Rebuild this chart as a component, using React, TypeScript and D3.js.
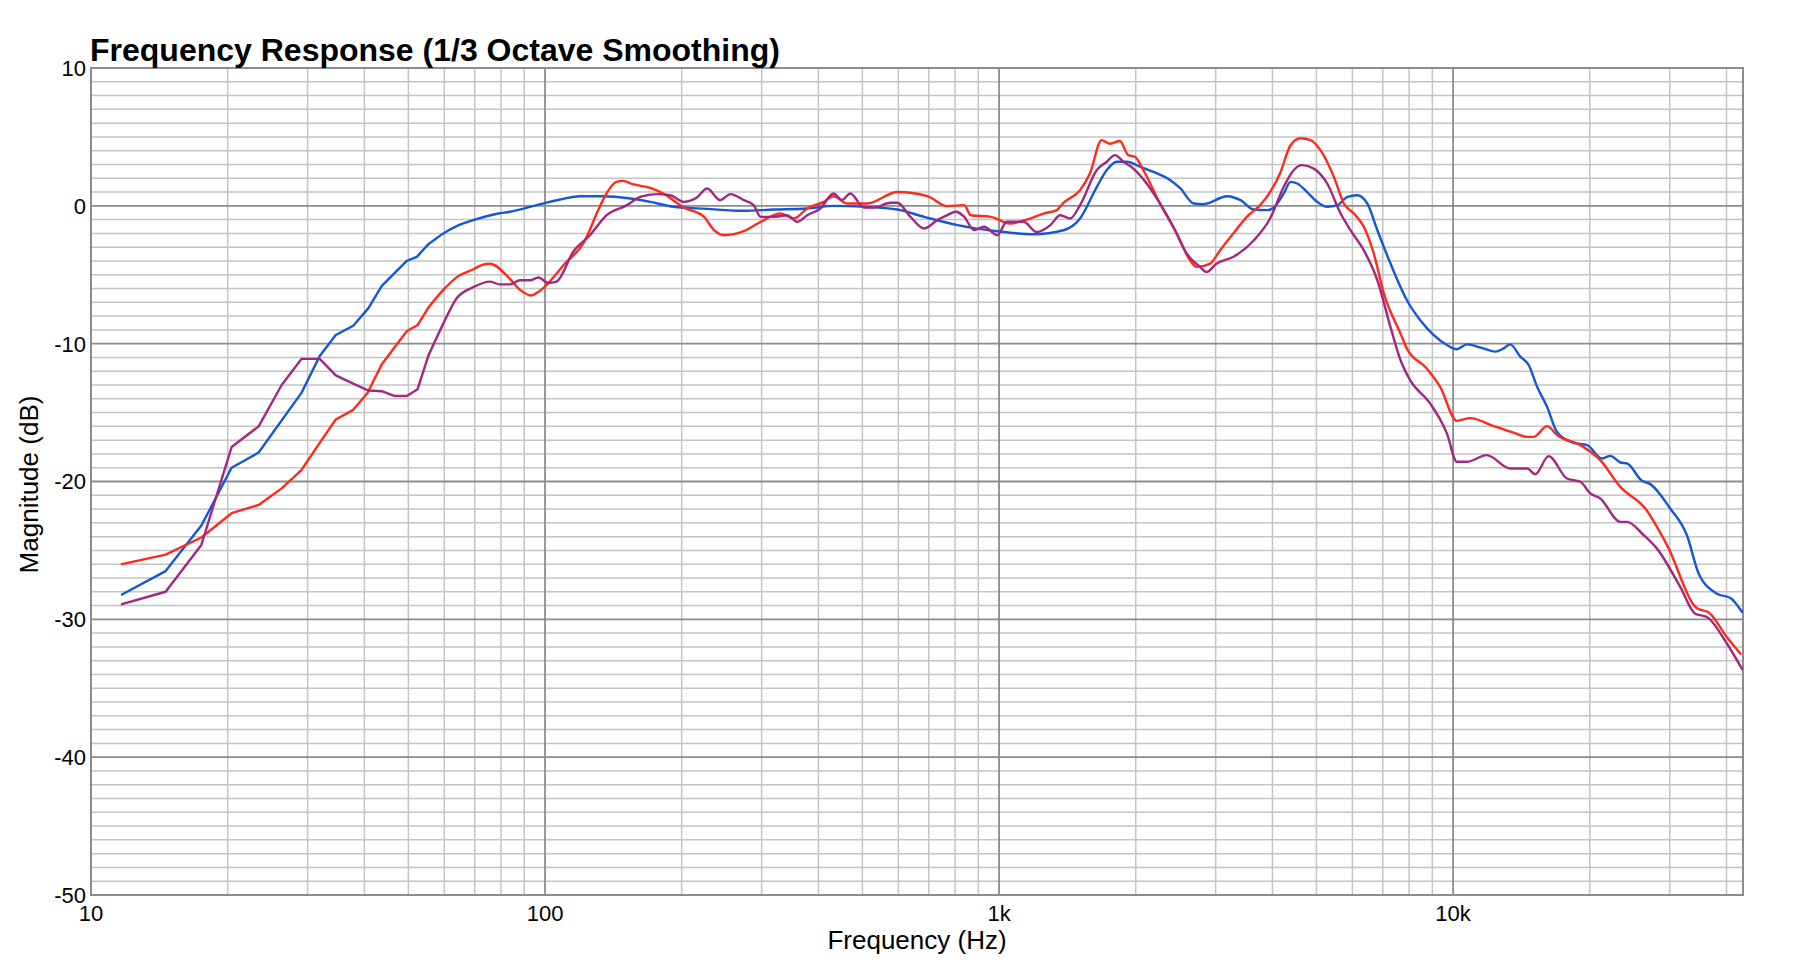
import React, { useEffect, useRef } from 'react';
import * as d3 from 'd3';

// [frequency Hz, magnitude dB]
const blueCurve: [number, number][] = [
  [11.7, -28.2], [14.6, -26.5], [17.5, -23.2], [20.4, -19.0], [23.4, -17.9], [29.1, -13.55],
  [31.9, -10.9], [34.6, -9.37], [37.8, -8.7], [40.8, -7.44], [43.7, -5.8], [49.6, -4.0],
  [52.2, -3.7], [55.3, -2.8], [59.7, -2.0], [63.9, -1.47], [69.5, -1.04], [78.9, -0.56],
  [83.7, -0.43], [95.8, 0.05], [108, 0.46], [119.5, 0.7], [134.5, 0.7], [154, 0.53],
  [170.5, 0.29], [192, -0.07], [227, -0.22], [274, -0.36], [319, -0.27], [378, -0.19],
  [432, 0], [504, -0.07], [597, -0.27], [684, -0.8], [810, -1.4], [991, -1.84],
  [1189, -2.06], [1386, -1.77], [1508, -0.92], [1642, 1.38], [1727, 2.6], [1817, 3.2],
  [1911, 3.2], [2046, 2.83], [2228, 2.35], [2384, 1.86], [2508, 1.26], [2684, 0.17],
  [2824, 0.12], [3178, 0.7], [3403, 0.41], [3641, -0.27], [3897, -0.31], [4030, -0.12],
  [4237, 0.9], [4386, 1.74], [4537, 1.62], [4770, 1.0], [5020, 0.29], [5280, -0.07],
  [5560, 0.05], [5850, 0.65], [6150, 0.77], [6470, 0.17], [6810, -1.77], [7280, -4.19],
  [7906, -6.83], [8459, -8.28], [9055, -9.37], [9690, -10.1], [10190, -10.4], [10720, -10.05],
  [11470, -10.27], [12380, -10.58], [12920, -10.34], [13360, -10.05], [14060, -10.94],
  [14670, -11.55], [15310, -13.12], [16100, -14.58], [16940, -16.4], [18440, -17.2],
  [19730, -17.36], [21280, -18.33], [22200, -18.14], [23350, -18.62], [24150, -18.69],
  [26060, -19.95], [27180, -20.19], [30070, -21.96], [32730, -23.9], [34740, -26.68],
  [38110, -28.14], [40810, -28.45], [43290, -29.47],
];

const redCurve: [number, number][] = [
  [11.7, -26.0], [14.6, -25.3], [17.5, -24.06], [20.4, -22.3], [23.4, -21.7], [26.3, -20.5],
  [29.1, -19.15], [32.2, -17.0], [34.6, -15.5], [37.8, -14.8], [40.6, -13.6], [43.7, -11.5],
  [49.6, -9.1], [52.4, -8.65], [55.3, -7.4], [59.7, -6.1], [64.4, -5.1], [69.5, -4.6],
  [72.5, -4.3], [75.6, -4.2], [83.7, -5.3], [88.1, -6.1], [93.3, -6.5], [97.5, -6.16],
  [110.7, -4.18], [121.4, -2.73], [131, -0.31], [135.5, 0.7], [143.6, 1.74], [148.6, 1.81],
  [156, 1.57], [170.5, 1.3], [183, 0.85], [202, -0.12], [224, -0.8], [235.6, -1.76],
  [247.8, -2.13], [274, -1.84], [298.5, -1.16], [330, -0.56], [353, -0.92], [378, -0.19],
  [411, 0.29], [432, 0.7], [463, 0.17], [512, 0.17], [597, 1.0], [695, 0.7], [769, -0.02],
  [838, 0.05], [866, -0.68], [959, -0.8], [1057, -1.28], [1150, -1.0], [1253, -0.56],
  [1340, -0.31], [1386, 0.22], [1508, 1.14], [1585, 2.35], [1683, 4.77], [1755, 4.5],
  [1845, 4.7], [1925, 3.68], [1991, 3.56], [2078, 2.6], [2261, 0.17], [2461, -2.0],
  [2634, -3.95], [2725, -4.43], [2917, -4.19], [3069, -3.22], [3282, -2.0], [3512, -0.8],
  [3758, 0.05], [3953, 1.0], [4157, 2.35], [4386, 4.4], [4613, 4.9], [4852, 4.77],
  [5103, 4.04], [5462, 2.1], [5746, 0.17], [6045, -0.56], [6358, -1.52], [6688, -3.46],
  [7040, -6.37], [7660, -9.27], [7906, -10.34], [8750, -11.8], [9360, -13.12], [10190, -15.6],
  [10910, -15.4], [12280, -15.98], [13590, -16.46], [14550, -16.76], [15050, -16.76],
  [16100, -15.98], [16940, -16.63], [19070, -17.36], [21090, -18.45], [23350, -20.39],
  [26500, -21.96], [29580, -24.6], [34440, -29.2], [36560, -29.5], [40110, -31.3], [42950, -32.5],
];

const purpleCurve: [number, number][] = [
  [11.7, -28.9], [14.6, -28.0], [17.5, -24.6], [20.4, -17.5], [23.4, -16.0], [26.3, -13.0],
  [29.1, -11.1], [31.9, -11.1], [34.6, -12.3], [37.8, -12.9], [40.8, -13.4], [43.7, -13.45],
  [46.7, -13.8], [49.6, -13.8], [52.4, -13.3], [55.3, -10.9], [59.2, -8.8], [63.9, -6.7],
  [69.5, -5.9], [75.6, -5.5], [79.4, -5.7], [83.7, -5.7], [88.1, -5.4], [92.7, -5.4],
  [96.7, -5.2], [101.7, -5.6], [106, -5.5], [115.4, -3.33], [125.6, -2.13], [136.7, -0.68],
  [151.5, 0.05], [162, 0.65], [176.6, 0.85], [188.8, 0.77], [202, 0.29], [216, 0.6],
  [227.5, 1.26], [243, 0.41], [256, 0.85], [274, 0.41], [288, 0.05], [298.5, -0.8],
  [319, -0.8], [341, -0.68], [359, -1.16], [378, -0.68], [404, -0.19], [432, 0.9],
  [451, 0.41], [470, 0.9], [504, -0.12], [530, -0.12], [577, 0.22], [597, 0.22],
  [638, -0.8], [684, -1.64], [731, -1.04], [769, -0.68], [803, -0.43], [838, -0.8],
  [881, -1.76], [927, -1.52], [991, -2.13], [1040, -1.16], [1132, -1.16], [1211, -1.9],
  [1297, -1.4], [1364, -0.68], [1435, -0.92], [1508, 0.05], [1642, 2.6], [1727, 3.2],
  [1799, 3.68], [1879, 3.2], [1976, 2.7], [2114, 1.62], [2261, 0.17], [2420, -1.52],
  [2589, -3.46], [2771, -4.43], [2865, -4.8], [3015, -4.19], [3282, -3.7], [3641, -2.5],
  [3953, -0.92], [4237, 1.38], [4458, 2.6], [4645, 2.95], [4932, 2.7], [5280, 1.62],
  [5653, -0.56], [5943, -1.77], [6358, -3.22], [6810, -5.4], [7280, -8.8], [7660, -11.2],
  [8040, -12.64], [8900, -14.33], [9690, -16.51], [10190, -18.57], [10720, -18.57],
  [11860, -18.09], [13360, -19.06], [14550, -19.06], [15170, -19.47], [16230, -18.16],
  [17810, -19.78], [19070, -20.02], [20060, -20.87], [21090, -21.23], [23350, -22.93],
  [24150, -22.93], [26300, -23.9], [28120, -24.87], [31640, -27.65], [34120, -29.59],
  [36220, -29.83], [40110, -31.77], [43290, -33.6],
];

const seriesColors = ['#1457d8', '#ff2a1c', '#a2287f'];

const xTickValues = [10, 100, 1000, 10000];
const xTickLabels = ['10', '100', '1k', '10k'];
const yTickValues = [10, 0, -10, -20, -30, -40, -50];

const title = 'Frequency Response (1/3 Octave Smoothing)';
const xLabel = 'Frequency (Hz)';
const yLabel = 'Magnitude (dB)';

// below this the measurement bins are sparse and plotted as straight segments
const linearBelowHz = 56;

const App: React.FC = () => {
  const svgRef = useRef<SVGSVGElement>(null);

  const width = 1808;
  const height = 973;
  const margin = { top: 68, right: 65, bottom: 78, left: 91 };
  const chartWidth = width - margin.left - margin.right;
  const chartHeight = height - margin.top - margin.bottom;

  useEffect(() => {
    const svg = d3.select(svgRef.current);
    svg.selectAll('*').remove();

    const font = '"Liberation Sans", Arial, Helvetica, sans-serif';

    const xScale = d3.scaleLog().domain([10, 43500]).range([0, chartWidth]);
    const yScale = d3.scaleLinear().domain([-50, 10]).range([chartHeight, 0]);

    svg.append('defs')
      .append('clipPath')
      .attr('id', 'plot-clip')
      .append('rect')
      .attr('width', chartWidth)
      .attr('height', chartHeight);

    const g = svg.append('g').attr('transform', `translate(${margin.left},${margin.top})`);

    // minor + major grid lines
    const minorX: number[] = [];
    const majorX: number[] = [];
    for (let dec = 10; dec <= 10000; dec *= 10) {
      majorX.push(dec);
      for (let k = 2; k <= 9; k++) {
        if (dec * k < 43500) minorX.push(dec * k);
      }
    }
    const minorY = d3.range(-50, 11).filter(v => v % 10 !== 0);
    const majorY = d3.range(-50, 11, 10);

    g.selectAll('.minor-x')
      .data(minorX)
      .enter().append('line')
      .attr('x1', d => xScale(d)).attr('x2', d => xScale(d))
      .attr('y1', 0).attr('y2', chartHeight)
      .attr('stroke', '#c4c4c4')
      .attr('stroke-width', 1.5);

    g.selectAll('.minor-y')
      .data(minorY)
      .enter().append('line')
      .attr('x1', 0).attr('x2', chartWidth)
      .attr('y1', d => yScale(d)).attr('y2', d => yScale(d))
      .attr('stroke', '#c4c4c4')
      .attr('stroke-width', 1.5);

    g.selectAll('.major-x')
      .data(majorX)
      .enter().append('line')
      .attr('x1', d => xScale(d)).attr('x2', d => xScale(d))
      .attr('y1', 0).attr('y2', chartHeight)
      .attr('stroke', '#8c8c8c')
      .attr('stroke-width', 1.8);

    g.selectAll('.major-y')
      .data(majorY)
      .enter().append('line')
      .attr('x1', 0).attr('x2', chartWidth)
      .attr('y1', d => yScale(d)).attr('y2', d => yScale(d))
      .attr('stroke', '#8c8c8c')
      .attr('stroke-width', 1.8);

    // plot border
    g.append('rect')
      .attr('width', chartWidth)
      .attr('height', chartHeight)
      .attr('fill', 'none')
      .attr('stroke', '#8c8c8c')
      .attr('stroke-width', 2);

    // curves: straight segments at the sparse low end, smooth above
    const straight = d3.line<[number, number]>()
      .x(d => xScale(d[0]))
      .y(d => yScale(d[1]))
      .curve(d3.curveLinear);
    const smooth = d3.line<[number, number]>()
      .x(d => xScale(d[0]))
      .y(d => yScale(d[1]))
      .curve(d3.curveMonotoneX);

    const curves = g.append('g').attr('clip-path', 'url(#plot-clip)');
    [blueCurve, redCurve, purpleCurve].forEach((data, i) => {
      const split = data.findIndex(d => d[0] > linearBelowHz);
      const low = data.slice(0, split);
      const high = data.slice(split - 1);
      [straight(low), smooth(high)].forEach(path => {
        curves.append('path')
          .attr('fill', 'none')
          .attr('stroke', seriesColors[i])
          .attr('stroke-width', 2.4)
          .attr('stroke-linejoin', 'round')
          .attr('stroke-linecap', 'round')
          .attr('d', path);
      });
    });

    // y tick labels
    g.selectAll('.y-label')
      .data(yTickValues)
      .enter().append('text')
      .attr('x', -5)
      .attr('y', d => yScale(d))
      .attr('dy', '0.36em')
      .attr('text-anchor', 'end')
      .attr('font-family', font)
      .attr('font-size', 22)
      .attr('fill', '#000')
      .text(d => String(d));

    // x tick labels
    g.selectAll('.x-label')
      .data(xTickValues)
      .enter().append('text')
      .attr('x', d => xScale(d))
      .attr('y', chartHeight + 26)
      .attr('text-anchor', 'middle')
      .attr('font-family', font)
      .attr('font-size', 22)
      .attr('fill', '#000')
      .text((_d, i) => xTickLabels[i]);

    // axis titles
    g.append('text')
      .attr('x', chartWidth / 2)
      .attr('y', chartHeight + 54)
      .attr('text-anchor', 'middle')
      .attr('font-family', font)
      .attr('font-size', 26)
      .attr('fill', '#000')
      .text(xLabel);

    g.append('text')
      .attr('transform', 'rotate(-90)')
      .attr('x', -chartHeight / 2 - 3)
      .attr('y', -53)
      .attr('text-anchor', 'middle')
      .attr('font-family', font)
      .attr('font-size', 26)
      .attr('fill', '#000')
      .text(yLabel);

    // title
    svg.append('text')
      .attr('x', margin.left - 1)
      .attr('y', 61)
      .attr('font-family', font)
      .attr('font-size', 32)
      .attr('font-weight', 'bold')
      .attr('fill', '#000')
      .text(title);
  }, []);

  return (
    <div style={{ position: 'absolute', left: 0, top: 0, width, height, background: '#fff' }}>
      <svg ref={svgRef} width={width} height={height}></svg>
    </div>
  );
};

export default App;
